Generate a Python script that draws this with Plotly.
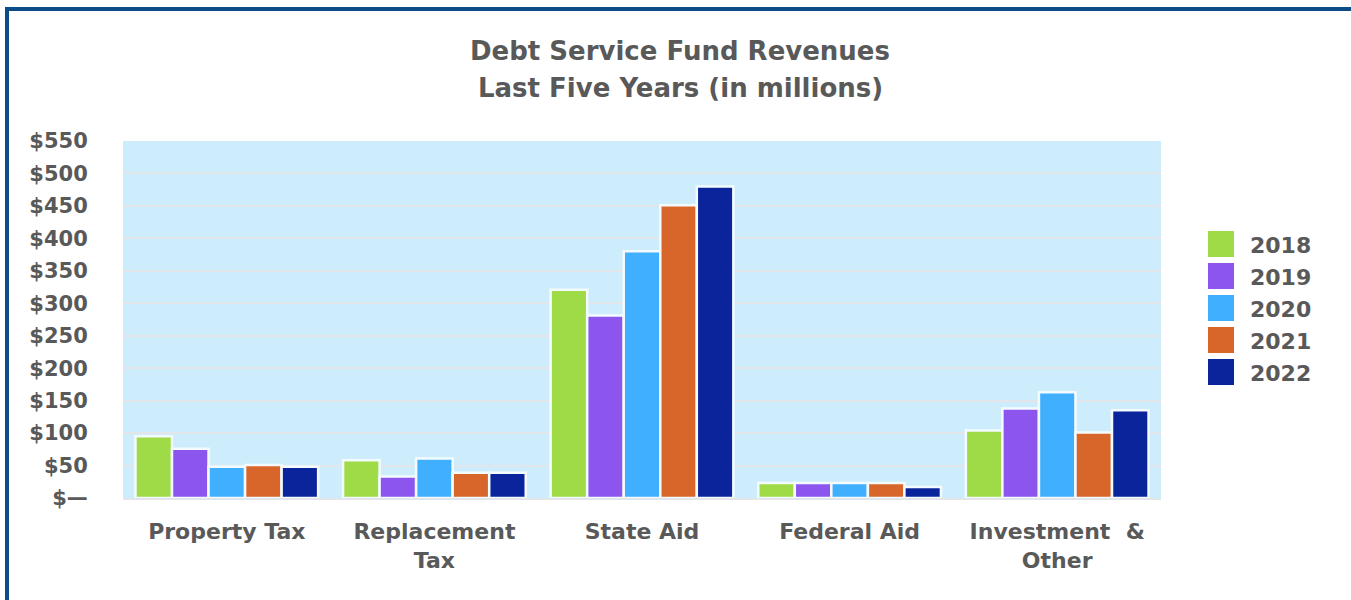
import plotly.graph_objects as go

categories = ["Property Tax", "Replacement<br>Tax", "State Aid", "Federal Aid", "Investment\u00a0 &<br>Other"]
years = ["2018", "2019", "2020", "2021", "2022"]
values_2018 = [95, 58, 321, 23, 104]
values_2019 = [76, 33, 281, 23, 138]
values_2020 = [48, 61, 380, 23, 163]
values_2021 = [51, 39, 451, 23, 101]
values_2022 = [48, 39, 480, 17, 135]
series = [values_2018, values_2019, values_2020, values_2021, values_2022]
colors = ["#9edb46", "#8c56ee", "#40affe", "#d8662a", "#0a249b"]
tick_vals = [0, 50, 100, 150, 200, 250, 300, 350, 400, 450, 500, 550]
tick_text = ["$\u2014", "$50", "$100", "$150", "$200", "$250", "$300", "$350", "$400", "$450", "$500", "$550"]
title_line1 = "Debt Service Fund Revenues"
title_line2 = "Last Five Years (in millions)"

W, H = 1351, 600
L, R, T, B = 123, 190, 141, 102
PW, PH = W - L - R, H - T - B
TXT = "#595959"
FONT = "DejaVu Sans, Liberation Sans, Arial, sans-serif"

def px(p):
    return (p - L) / PW

def py(p):
    return (H - B - p) / PH

fig = go.Figure()
for yr, vals, col in zip(years, series, colors):
    fig.add_trace(go.Bar(
        x=categories, y=vals, name=yr,
        marker=dict(color=col, line=dict(color="#f4fbff", width=2.5)),
        showlegend=False,
    ))

shapes = []
annotations = []
# manual legend with large square swatches
for i, (yr, col) in enumerate(zip(years, colors)):
    cy = 244 + 32 * i
    shapes.append(dict(type="rect", xref="paper", yref="paper",
                       x0=px(1208), x1=px(1234), y0=py(cy + 13), y1=py(cy - 13),
                       fillcolor=col, line=dict(width=0), layer="above"))
    annotations.append(dict(xref="paper", yref="paper", x=px(1248), y=py(cy + 1),
                            xanchor="left", yanchor="middle", showarrow=False,
                            text="<b>" + yr + "</b>",
                            font=dict(family=FONT, size=22, color=TXT)))

# second title line
annotations.append(dict(xref="paper", yref="paper", x=px(680), y=py(88),
                        xanchor="center", yanchor="middle", showarrow=False,
                        text="<b>" + title_line2 + "</b>",
                        font=dict(family=FONT, size=26, color=TXT)))

# outer frame (left and top)
shapes.append(dict(type="path", xref="paper", yref="paper",
                   path=f"M {px(7)} {py(620)} L {px(7)} {py(9)} L {px(1380)} {py(9)}",
                   line=dict(color="#0b4b86", width=4), layer="above"))

fig.update_layout(
    width=W, height=H,
    margin=dict(l=L, r=R, t=T, b=B, pad=0),
    paper_bgcolor="white",
    plot_bgcolor="#cdedfc",
    barmode="group",
    bargap=0.12,
    bargroupgap=0.0,
    showlegend=False,
    title=dict(text="<b>" + title_line1 + "</b>",
               x=680 / W, xanchor="center", xref="container",
               y=1 - 51 / H, yanchor="middle", yref="container",
               font=dict(family=FONT, size=26, color=TXT)),
    font=dict(family=FONT, color=TXT),
    shapes=shapes,
    annotations=annotations,
)
fig.update_yaxes(
    range=[0, 550], tickvals=tick_vals, ticktext=["<b>" + t + "</b>" for t in tick_text],
    tickfont=dict(family=FONT, size=21, color=TXT),
    showgrid=True, gridcolor="#e2e6ea", gridwidth=2,
    zeroline=False, showline=False,
    ticks="outside", ticklen=30, tickcolor="rgba(0,0,0,0)",
)
fig.update_xaxes(
    tickvals=categories, ticktext=["<b>" + c + "</b>" for c in categories],
    tickfont=dict(family=FONT, size=22, color=TXT),
    showline=True, linecolor="#e2e6ea", linewidth=2,
    ticks="outside", ticklen=13, tickcolor="rgba(0,0,0,0)",
)

fig.write_html("out.html")
